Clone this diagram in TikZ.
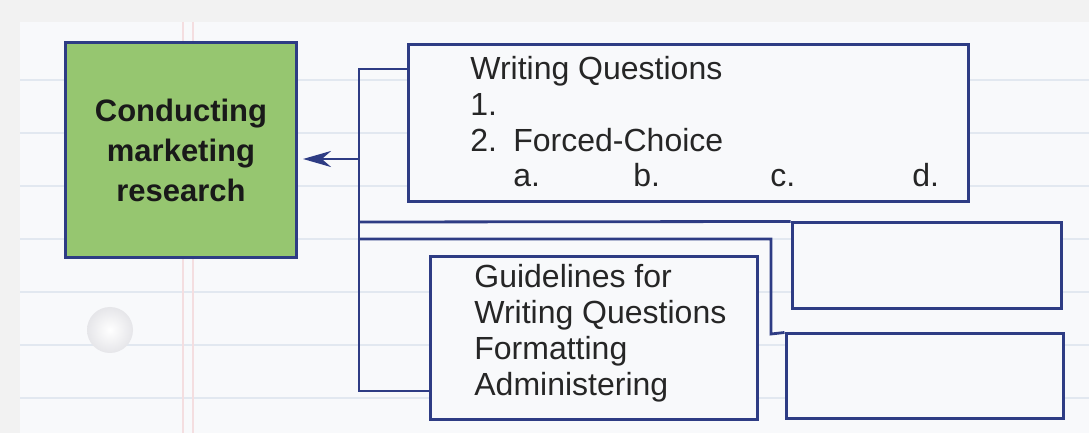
\documentclass[tikz,border=0pt]{standalone}
\usepackage{fontspec}
\setmainfont{Liberation Sans}
\usepackage{tikz}
\usetikzlibrary{arrows.meta}
\definecolor{navy}{RGB}{46,60,132}
\definecolor{boxgreen}{RGB}{150,198,112}
\definecolor{paper}{RGB}{248,249,251}
\definecolor{rule}{RGB}{226,232,240}
\definecolor{margin}{RGB}{244,222,224}

\begin{document}
\begin{tikzpicture}[
        x=0.5pt, y=-0.5pt,
        mainbox/.style={rectangle, draw=navy, fill=boxgreen, line width=1.5pt, minimum width=115.5pt, minimum height=107.5pt, align=center, font=\fontsize{15.5}{20}\selectfont\bfseries, text=black!90},
        outline/.style={rectangle, draw=navy, fill=paper, line width=1.5pt},
        entry/.style={inner sep=0pt, align=left, anchor=base west, font=\fontsize{16}{17.9}\selectfont, text=black!85},
        link/.style={draw=navy, line width=1.4pt},
        arrow/.style={link, -{Stealth[length=14pt, width=8pt]}, shorten >=2.5pt}
    ]
        \useasboundingbox (0,0) rectangle (1089,433);
        \fill[black!5] (0,0) rectangle (1089,433);
        \fill[paper] (20,22) rectangle (1089,433);
        \foreach \y in {80,133,186,239,292,345,398}
            \draw[rule, line width=0.6pt] (20,\y) -- (1089,\y);
        \draw[margin, line width=0.6pt] (183,22) -- (183,433) (193,22) -- (193,433);
        \shade[inner color=white, outer color=blue!14!black!10] (110,330) circle[radius=23];

        \node[mainbox] (cmr) at (181,150) {Conducting\\marketing\\research};
        \node[outline, minimum width=280pt, minimum height=78.5pt] (wq) at (688,123.5) {};
        \node[outline, minimum width=163.5pt, minimum height=81pt] (gl) at (593.5,338) {};
        \node[outline, minimum width=134.5pt, minimum height=43pt] (ur) at (926.5,266) {};
        \node[outline, minimum width=138.5pt, minimum height=42pt] (lr) at (924.5,376) {};

        \node[entry] (wqtext) at (470,187) {Writing Questions\\1.\\\makebox[21.5pt][l]{2.}Forced-Choice\\\hspace*{21.5pt}\makebox[60pt][l]{a.}\makebox[68.5pt][l]{b.}\makebox[71pt][l]{c.}d.};
        \node[entry] (gltext) at (474,395) {Guidelines for\\Writing Questions\\Formatting\\Administering};

        \coordinate (bustop) at (359,69);
        \coordinate (busmid) at (359,159);
        \coordinate (bus1) at (359,222);
        \coordinate (bus2) at (359,239);
        \coordinate (busbot) at (359,391);
        \coordinate (bend) at (771,334);

        \draw[link] (wq.west |- bustop) -- (bustop) -- (busbot) -- (gl.west |- busbot);
        \draw[link] (bus1) -- (ur.north west);
        \draw[link] (bus2) -| (bend) -- (lr.north west);
        \draw[arrow] (busmid) -- (cmr.east |- busmid);
    \end{tikzpicture}
\end{document}
